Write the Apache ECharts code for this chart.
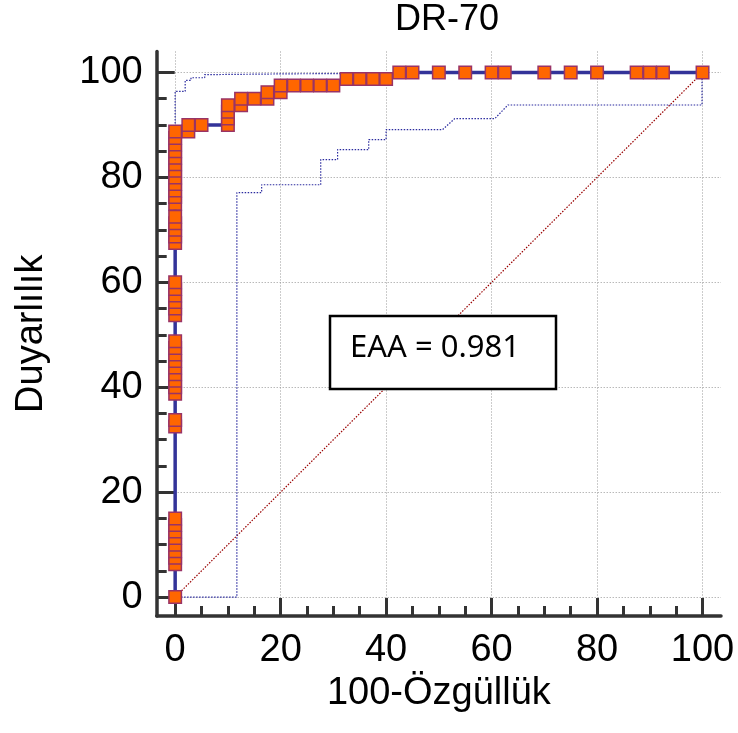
<!DOCTYPE html>
<html>
<head>
<meta charset="utf-8">
<script src="https://cdn.jsdelivr.net/npm/echarts@6/dist/echarts.min.js"></script>
<style>
html,body{margin:0;padding:0;background:#fff;}
#c{width:738px;height:733px;}
</style>
</head>
<body>
<div id="c"></div>
<script>
// ROC curve points (100-Specificity, Sensitivity)
const rocX = [0,0,0,0,0,0,0,0,0,0,0,0,0,0,0,0,0,0,0,0,0,0,0,0,0,0,0,0,0,0,0,0,0,0,0,0,0,0,0,0,0,0,0,
  2.5,2.5,5,10,10,10,10,12.5,12.5,15,17.5,17.5,20,20,22.5,25,27.5,30,32.5,35,37.5,40,
  42.5,45,50,55,60,62.5,70,75,80,87.5,90,92.5,100];
const rocY = [0,6.25,7.5,8.75,10,11.25,12.5,13.75,15,32.5,33.75,
  38.75,40,41.25,42.5,43.75,45,46.25,47.5,48.75,
  53.75,55,56.25,57.5,58.75,60,
  67.5,68.75,70,71.25,72.5,
  75,76.25,77.5,78.75,80,81.25,82.5,83.75,85,86.25,87.5,88.75,
  88.75,90,90,90,91.25,92.5,93.75,93.75,95,95,95,96.25,96.25,97.5,97.5,97.5,97.5,97.5,98.75,98.75,98.75,98.75,
  100,100,100,100,100,100,100,100,100,100,100,100,100];
// Upper 95% confidence bound
const upperX = [0,0,1.9,1.9,3.0,3.0,5.6,5.6,7.45,7.45,22,22,100];
const upperY = [80,96.4,96.4,98.5,98.5,99.0,99.0,99.6,99.6,99.75,99.75,100,100];
// Lower 95% confidence bound
const lowerX = [0,11.7,11.7,16.4,16.4,27.6,27.6,30.8,30.8,36.7,36.7,40.0,40.0,50.7,53.0,60.6,63.1,99.9,99.9];
const lowerY = [0,0,77.1,77.1,78.6,78.6,83.4,83.4,85.3,85.3,87.2,87.2,89.1,89.1,91.2,91.2,93.8,93.8,100];
// Reference diagonal
const diagX = [0,100];
const diagY = [0,100];
// Tick values
const majorTicks = [0,20,40,60,80,100];
const minorTicks = [0,5,10,15,20,25,30,35,40,45,50,55,60,65,70,75,80,85,90,95,100];
const titleText = 'DR-70';
const xName = '100-Özgüllük';
const yName = 'Duyarlılık';
const aucText = 'EAA = 0.981';

const zip = (xs, ys) => xs.map((x, i) => [x, ys[i]]);

const FONT = '"Liberation Sans", Arial, sans-serif';
const axisColor = '#333';

function mainAxis(isX) {
  return {
    type: 'value',
    min: isX ? -3.5 : -3.6,
    max: isX ? 103.5 : 104,
    position: isX ? 'bottom' : 'left',
    axisLine: { show: true, onZero: false, lineStyle: { color: axisColor, width: 3.5 } },
    axisTick: { show: true, inside: true, length: 18, customValues: majorTicks,
      lineStyle: { color: axisColor, width: 3 } },
    axisLabel: { show: true, customValues: majorTicks, fontSize: 38, color: '#000',
      fontFamily: FONT, margin: isX ? 16 : 14 },
    splitLine: { show: true, lineStyle: { color: '#999999', type: [1, 2], width: 1 } },
    name: isX ? xName : yName,
    nameLocation: 'middle',
    nameGap: isX ? 52 : 106,
    nameTextStyle: { fontSize: 38, color: '#000', fontFamily: FONT }
  };
}
function minorAxis(isX) {
  return {
    type: 'value',
    min: isX ? -3.5 : -3.6,
    max: isX ? 103.5 : 104,
    position: isX ? 'bottom' : 'left',
    axisLine: { show: false, onZero: false },
    axisTick: { show: true, inside: true, length: 10, customValues: minorTicks,
      lineStyle: { color: axisColor, width: 3 } },
    axisLabel: { show: false },
    splitLine: { show: false }
  };
}

const chart = echarts.init(document.getElementById('c'), null, { renderer: 'canvas' });
chart.setOption({
  animation: false,
  backgroundColor: '#fff',
  title: {
    text: titleText, left: 442, top: -3, textAlign: 'center',
    textStyle: { fontSize: 36, fontWeight: 'normal', color: '#000', fontFamily: FONT }
  },
  grid: { left: 156.7, right: 17, top: 51.5, bottom: 117, containLabel: false },
  xAxis: [mainAxis(true), minorAxis(true)],
  yAxis: [mainAxis(false), minorAxis(false)],
  series: [
    {
      type: 'line', xAxisIndex: 0, yAxisIndex: 0, data: zip(diagX, diagY),
      showSymbol: false, symbol: 'none', z: 2,
      lineStyle: { color: '#990000', width: 1.2, type: [1.5, 1.5] }
    },
    {
      type: 'line', xAxisIndex: 0, yAxisIndex: 0, data: zip(upperX, upperY),
      showSymbol: false, symbol: 'none', z: 3,
      lineStyle: { color: '#2b2b9f', width: 1.2, type: [1.5, 1.5] }
    },
    {
      type: 'line', xAxisIndex: 0, yAxisIndex: 0, data: zip(lowerX, lowerY),
      showSymbol: false, symbol: 'none', z: 3,
      lineStyle: { color: '#2b2b9f', width: 1.2, type: [1.5, 1.5] }
    },
    {
      type: 'line', xAxisIndex: 0, yAxisIndex: 0, data: zip(rocX, rocY),
      showSymbol: true, showAllSymbol: true, symbol: 'rect', symbolSize: 12.5, z: 5,
      lineStyle: { color: '#333399', width: 3.5 },
      itemStyle: { color: '#ff6600', borderColor: '#993366', borderWidth: 1.5 }
    }
  ],
  graphic: [
    {
      type: 'rect', z: 100,
      shape: { x: 330, y: 316, width: 226, height: 73 },
      style: { fill: '#fff', stroke: '#000', lineWidth: 2.5 }
    },
    {
      type: 'text', z: 101,
      style: { text: aucText, x: 350, y: 348, verticalAlign: 'middle', align: 'left',
        fontSize: 31, fontFamily: '"Noto Sans", sans-serif', fill: '#000' }
    }
  ]
});
</script>
</body>
</html>
